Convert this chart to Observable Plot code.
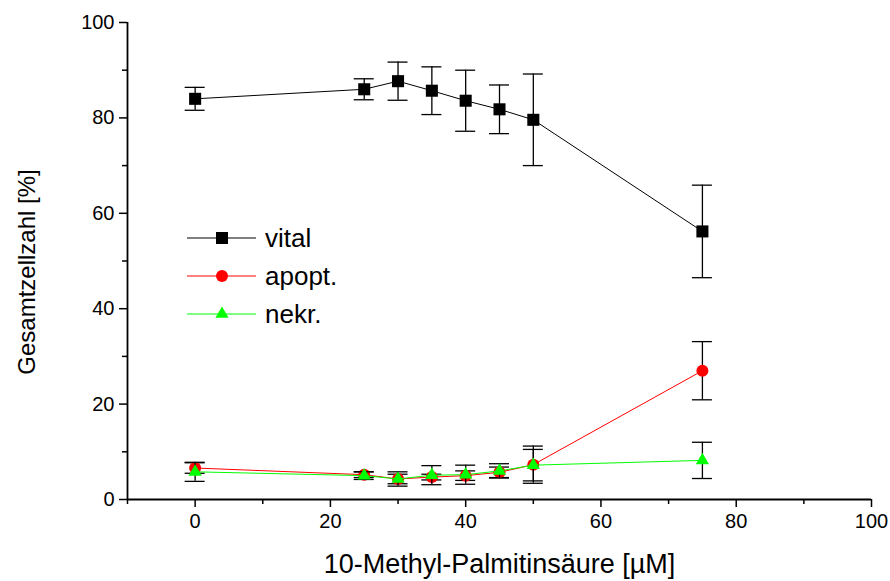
<!DOCTYPE html>
<html>
<head>
<meta charset="utf-8">
<script src="https://cdn.jsdelivr.net/npm/d3@7"></script>
<script src="https://cdn.jsdelivr.net/npm/@observablehq/plot@0.6"></script>
<style>
  body { margin: 0; background: #fff; }
  #chart { position: relative; width: 890px; height: 581px; font-family: "Liberation Sans", Arial, sans-serif; }
  #legend { position: absolute; left: 0; top: 0; pointer-events: none; }
</style>
</head>
<body>
<div id="chart"></div>
<script>
// Concentration of 10-methyl palmitic acid (µM)
const conc = [0, 25, 30, 35, 40, 45, 50, 75];

// Share of total cell count (%) with standard deviations
const vital    = [84.0, 86.0, 87.7, 85.7, 83.6, 81.8, 79.6, 56.2];
const vitalErr = [2.4, 2.2, 4.0, 5.0, 6.4, 5.1, 9.6, 9.7];
const apopt    = [6.6, 5.2, 4.3, 4.7, 5.0, 5.7, 7.3, 27.0];
const apoptErr = [1.1, 0.6, 1.0, 0.6, 1.0, 1.1, 3.9, 6.1];
const nekr     = [5.8, 5.0, 4.3, 5.1, 5.2, 6.0, 7.2, 8.2];
const nekrErr  = [2.0, 0.8, 1.5, 2.0, 2.0, 1.5, 3.3, 3.8];

// Axis ticks
const xMajor = [0, 20, 40, 60, 80, 100];
const xMinor = [-10, 10, 30, 50, 70, 90];
const yMajor = [0, 20, 40, 60, 80, 100];
const yMinor = [10, 30, 50, 70, 90];

// Series names, colours, marker shapes
const seriesNames   = ["vital", "apopt.", "nekr."];
const seriesColors  = ["#000000", "#ff0000", "#00ff00"];
const seriesSymbols = ["square", "circle", "triangle"];
const seriesR       = [6.8, 6, 4.9];

const xTitle = "10-Methyl-Palmitinsäure [µM]";
const yTitle = "Gesamtzellzahl [%]";

const rows = (ys, es) => conc.map((x, i) => ({x, y: ys[i], lo: ys[i] - es[i], hi: ys[i] + es[i]}));
const seriesData = [rows(vital, vitalErr), rows(apopt, apoptErr), rows(nekr, nekrErr)];

const seriesMarks = seriesData.flatMap((data, k) => {
  const caps = data.flatMap(d => [{x: d.x, y: d.lo}, {x: d.x, y: d.hi}]);
  return [
    Plot.line(data, {x: "x", y: "y", stroke: seriesColors[k], strokeWidth: 1}),
    Plot.ruleX(data, {x: "x", y1: "lo", y2: "hi", stroke: "#000", strokeWidth: 1.3}),
    Plot.ruleY(caps, {y: "y", x1: "x", x2: "x", insetLeft: -10, insetRight: -10, stroke: "#000", strokeWidth: 1.3}),
    Plot.dot(data, {x: "x", y: "y", symbol: seriesSymbols[k], r: seriesR[k], fill: seriesColors[k], stroke: "none"})
  ];
});

const chart = Plot.plot({
  width: 890,
  height: 581,
  marginLeft: 127,
  marginRight: 19,
  marginTop: 22,
  marginBottom: 82,
  style: {fontFamily: "'Liberation Sans', Arial, sans-serif", background: "#fff", color: "#000"},
  x: {domain: [-10, 100], label: null},
  y: {domain: [0, 100], label: null},
  marks: [
    Plot.axisX({ticks: xMajor, tickSize: 8, tickPadding: 6, fontSize: 20, strokeWidth: 1.5, label: null, tickFormat: d => String(d)}),
    Plot.axisX({ticks: xMinor, tickSize: 5, strokeWidth: 1.5, label: null, tickFormat: () => ""}),
    Plot.axisY({ticks: yMajor, tickSize: 8, tickPadding: 5, fontSize: 20, strokeWidth: 1.5, label: null, tickFormat: d => String(d)}),
    Plot.axisY({ticks: yMinor, tickSize: 5, strokeWidth: 1.5, label: null, tickFormat: () => ""}),
    Plot.ruleY([0], {stroke: "#000", strokeWidth: 1.8}),
    Plot.ruleX([-10], {stroke: "#000", strokeWidth: 1.8}),
    ...seriesMarks,
    Plot.text([xTitle], {frameAnchor: "bottom", lineAnchor: "middle", textAnchor: "middle", dy: 65, fontSize: 27, fill: "#000"}),
    Plot.text([yTitle], {frameAnchor: "left", lineAnchor: "middle", textAnchor: "middle", dx: -100, dy: 11, rotate: -90, fontSize: 24, fill: "#000"})
  ]
});

const root = document.getElementById("chart");
root.appendChild(chart);

// Legend inside the plot area
const legendSvg = d3.select(root).append("svg")
  .attr("id", "legend").attr("width", 890).attr("height", 581);
const symbolTypes = {square: d3.symbolSquare, circle: d3.symbolCircle, triangle: d3.symbolTriangle};
const rowY = [238, 276, 314];
seriesNames.forEach((name, k) => {
  const g = legendSvg.append("g").attr("transform", `translate(187,${rowY[k]})`);
  g.append("line").attr("x1", 0).attr("x2", 69).attr("y1", 0).attr("y2", 0)
    .attr("stroke", seriesColors[k]).attr("stroke-width", 1);
  g.append("path")
    .attr("d", d3.symbol(symbolTypes[seriesSymbols[k]], seriesR[k] * seriesR[k] * Math.PI)())
    .attr("transform", "translate(35,0)")
    .attr("fill", seriesColors[k]);
  g.append("text").attr("x", 78).attr("y", 0).attr("dy", "0.36em")
    .attr("font-family", "'Liberation Sans', Arial, sans-serif")
    .attr("font-size", 26).attr("fill", "#000").text(name);
});
</script>
</body>
</html>
